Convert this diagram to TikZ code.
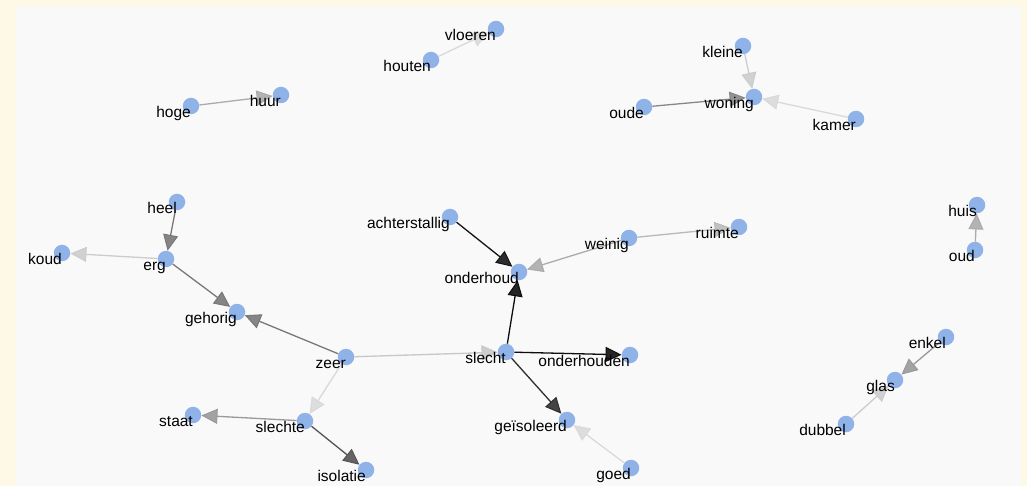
\documentclass[tikz,border=0pt]{standalone}
\usepackage{fontspec}
\setmainfont{Liberation Sans}
\usetikzlibrary{arrows.meta}
\definecolor{outerbg}{RGB}{254,248,230}
\definecolor{innerbg}{RGB}{249,249,249}
\definecolor{vfill}{RGB}{143,179,232}
\tikzset{
  vert/.style={circle, fill=vfill, draw=none, minimum size=16.5pt, inner sep=0pt},
  lab/.style={anchor=base east, inner sep=0pt, font=\fontsize{15.5}{18}\selectfont, text=black},
  edge/.style={line width=1.3pt, draw=black!#1, -{Triangle[length=16pt,width=15pt,line width=1pt,fill=black!#1!white!90]}},
}
\newcommand\vtx[3]{\node[vert] (#1) at (#2,#3) {};}
\newcommand\lbl[4]{\node[lab] (#1l) at (#2,#3+11.5) {#4};}
\begin{document}
\begin{tikzpicture}[x=1pt,y=-1pt]
\fill[outerbg] (0,0) rectangle (1027,486);
\fill[innerbg] (16,7) rectangle (1021,486);
\useasboundingbox (0,0) rectangle (1027,486);
% vertices
\vtx{hoge}{191}{106}
\vtx{huur}{281}{95}
\vtx{houten}{431}{60}
\vtx{vloeren}{496}{29}
\vtx{kleine}{743}{46}
\vtx{woning}{754}{97}
\vtx{oude}{644}{107}
\vtx{kamer}{856}{119}
\vtx{heel}{177}{202}
\vtx{erg}{166}{259}
\vtx{koud}{62}{253}
\vtx{gehorig}{237}{312}
\vtx{achterstallig}{450}{217}
\vtx{onderhoud}{519}{272}
\vtx{weinig}{629}{238}
\vtx{ruimte}{739}{227}
\vtx{huis}{977}{205}
\vtx{oud}{975}{250}
\vtx{zeer}{346}{357}
\vtx{slecht}{506}{352}
\vtx{onderhouden}{630}{355}
\vtx{slechte}{305}{421}
\vtx{staat}{193}{415}
\vtx{isolatie}{366}{470}
\vtx{geisoleerd}{567}{420}
\vtx{goed}{631}{468}
\vtx{enkel}{946}{337}
\vtx{glas}{895}{380}
\vtx{dubbel}{846}{424}
% edges
\draw[edge=33] (hoge) -- (huur);
\draw[edge=15] (houten) -- (vloeren);
\draw[edge=20] (kleine) -- (woning);
\draw[edge=47] (oude) -- (woning);
\draw[edge=15] (kamer) -- (woning);
\draw[edge=53] (heel) -- (erg);
\draw[edge=20] (erg) -- (koud);
\draw[edge=53] (erg) -- (gehorig);
\draw[edge=53] (zeer) -- (gehorig);
\draw[edge=92] (achterstallig) -- (onderhoud);
\draw[edge=33] (weinig) -- (onderhoud);
\draw[edge=27] (weinig) -- (ruimte);
\draw[edge=33] (oud) -- (huis);
\draw[edge=22] (zeer) -- (slecht);
\draw[edge=95] (slecht) -- (onderhoud);
\draw[edge=95] (slecht) -- (onderhouden);
\draw[edge=82] (slecht) -- (geisoleerd);
\draw[edge=15] (zeer) -- (slechte);
\draw[edge=40] (slechte) -- (staat);
\draw[edge=67] (slechte) -- (isolatie);
\draw[edge=15] (goed) -- (geisoleerd);
\draw[edge=40] (enkel) -- (glas);
\draw[edge=20] (dubbel) -- (glas);
% labels
\lbl{hoge}{191}{106}{hoge}
\lbl{huur}{281}{95}{huur}
\lbl{houten}{431}{60}{houten}
\lbl{vloeren}{496}{29}{vloeren}
\lbl{kleine}{743}{46}{kleine}
\lbl{woning}{754}{97}{woning}
\lbl{oude}{644}{107}{oude}
\lbl{kamer}{856}{119}{kamer}
\lbl{heel}{177}{202}{heel}
\lbl{erg}{166}{259}{erg}
\lbl{koud}{62}{253}{koud}
\lbl{gehorig}{237}{312}{gehorig}
\lbl{achterstallig}{450}{217}{achterstallig}
\lbl{onderhoud}{519}{272}{onderhoud}
\lbl{weinig}{629}{238}{weinig}
\lbl{ruimte}{739}{227}{ruimte}
\lbl{huis}{977}{205}{huis}
\lbl{oud}{975}{250}{oud}
\lbl{zeer}{346}{357}{zeer}
\lbl{slecht}{506}{352}{slecht}
\lbl{onderhouden}{630}{355}{onderhouden}
\lbl{slechte}{305}{421}{slechte}
\lbl{staat}{193}{415}{staat}
\lbl{isolatie}{366}{470}{isolatie}
\lbl{geisoleerd}{567}{420}{geïsoleerd}
\lbl{goed}{631}{468}{goed}
\lbl{enkel}{946}{337}{enkel}
\lbl{glas}{895}{380}{glas}
\lbl{dubbel}{846}{424}{dubbel}
\end{tikzpicture}
\end{document}
